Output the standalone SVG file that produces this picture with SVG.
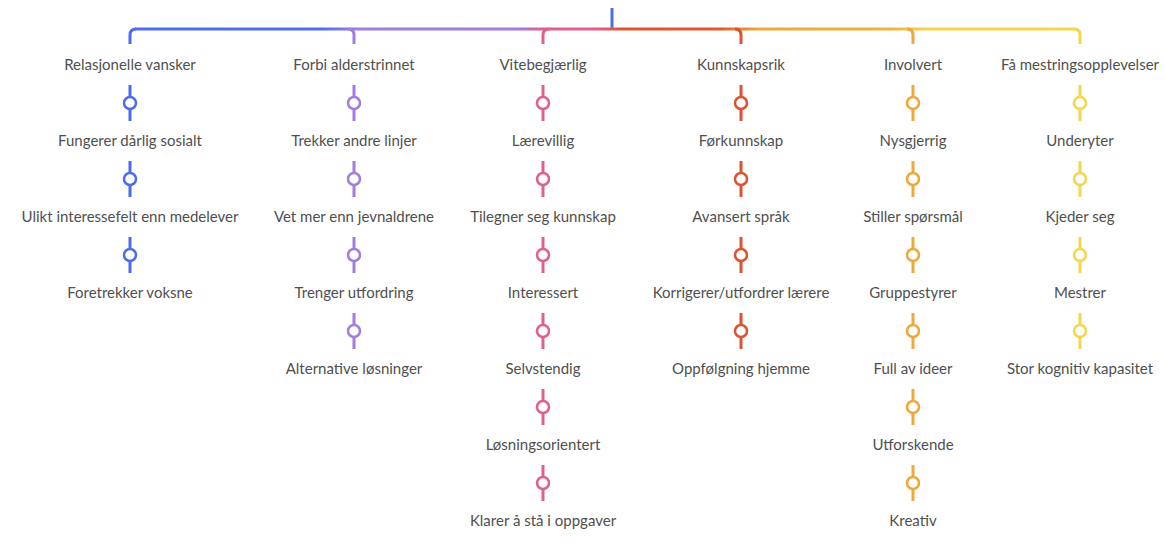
<svg xmlns="http://www.w3.org/2000/svg" width="1165" height="551" viewBox="0 0 1165 551">
<defs>
<linearGradient id="bar" gradientUnits="userSpaceOnUse" x1="130" y1="0" x2="1080" y2="0">
<stop offset="0" stop-color="#4b6cef"/>
<stop offset="0.2" stop-color="#4f6cef"/>
<stop offset="0.24" stop-color="#9a7fe2"/>
<stop offset="0.405" stop-color="#a07de0"/>
<stop offset="0.435" stop-color="#de5f8e"/>
<stop offset="0.49" stop-color="#e0608a"/>
<stop offset="0.52" stop-color="#e0522f"/>
<stop offset="0.62" stop-color="#e2572f"/>
<stop offset="0.66" stop-color="#f0a63a"/>
<stop offset="0.8" stop-color="#f2b03e"/>
<stop offset="0.84" stop-color="#f4d54d"/>
<stop offset="1" stop-color="#f4d64d"/>
</linearGradient>
</defs>
<style>
text{font-family:Lato,"Liberation Sans",sans-serif;font-size:15px;fill:#4f4f4f;text-anchor:middle}
.ln{fill:none;stroke-width:3;stroke-linecap:butt}
.dot{fill:#fff;stroke-width:2.5}
.blue{stroke:#4b6cef}.purple{stroke:#a07de0}.pink{stroke:#e0608d}.red{stroke:#e0522f}.orange{stroke:#f0a83a}.yellow{stroke:#f4d64d}
</style>
<rect width="1165" height="551" fill="#fff"/>
<g id="connectors">
<path class="ln blue" d="M612 8V30"/>
<path class="ln" stroke="url(#bar)" d="M135 29H1075"/>
<path class="ln blue" d="M130 44V35Q130 29 136 29"/>
<path class="ln purple" d="M348 29Q354 29 354 35V44"/>
<path class="ln pink" d="M543 44V35Q543 29 549 29"/>
<path class="ln red" d="M735 29Q741 29 741 35V44"/>
<path class="ln orange" d="M907 29Q913 29 913 35V44"/>
<path class="ln yellow" d="M1074 29Q1080 29 1080 35V44"/>
</g>
<g id="links">
<g class="blue"><path class="ln" d="M130 85V121M130 161V197M130 237V273"/><circle class="dot" cx="130" cy="103" r="6"/><circle class="dot" cx="130" cy="179" r="6"/><circle class="dot" cx="130" cy="255" r="6"/></g>
<g class="purple"><path class="ln" d="M354 85V121M354 161V197M354 237V273M354 313V349"/><circle class="dot" cx="354" cy="103" r="6"/><circle class="dot" cx="354" cy="179" r="6"/><circle class="dot" cx="354" cy="255" r="6"/><circle class="dot" cx="354" cy="331" r="6"/></g>
<g class="pink"><path class="ln" d="M543 85V121M543 161V197M543 237V273M543 313V349M543 389V425M543 465V501"/><circle class="dot" cx="543" cy="103" r="6"/><circle class="dot" cx="543" cy="179" r="6"/><circle class="dot" cx="543" cy="255" r="6"/><circle class="dot" cx="543" cy="331" r="6"/><circle class="dot" cx="543" cy="407" r="6"/><circle class="dot" cx="543" cy="483" r="6"/></g>
<g class="red"><path class="ln" d="M741 85V121M741 161V197M741 237V273M741 313V349"/><circle class="dot" cx="741" cy="103" r="6"/><circle class="dot" cx="741" cy="179" r="6"/><circle class="dot" cx="741" cy="255" r="6"/><circle class="dot" cx="741" cy="331" r="6"/></g>
<g class="orange"><path class="ln" d="M913 85V121M913 161V197M913 237V273M913 313V349M913 389V425M913 465V501"/><circle class="dot" cx="913" cy="103" r="6"/><circle class="dot" cx="913" cy="179" r="6"/><circle class="dot" cx="913" cy="255" r="6"/><circle class="dot" cx="913" cy="331" r="6"/><circle class="dot" cx="913" cy="407" r="6"/><circle class="dot" cx="913" cy="483" r="6"/></g>
<g class="yellow"><path class="ln" d="M1080 85V121M1080 161V197M1080 237V273M1080 313V349"/><circle class="dot" cx="1080" cy="103" r="6"/><circle class="dot" cx="1080" cy="179" r="6"/><circle class="dot" cx="1080" cy="255" r="6"/><circle class="dot" cx="1080" cy="331" r="6"/></g>
</g>
<g id="col1">
<g id="n1-0"><text x="130" y="70">Relasjonelle vansker</text></g>
<g id="n1-1"><text x="130" y="146">Fungerer dårlig sosialt</text></g>
<g id="n1-2"><text x="130" y="222">Ulikt interessefelt enn medelever</text></g>
<g id="n1-3"><text x="130" y="298">Foretrekker voksne</text></g>
</g>
<g id="col2">
<g id="n2-0"><text x="354" y="70">Forbi alderstrinnet</text></g>
<g id="n2-1"><text x="354" y="146">Trekker andre linjer</text></g>
<g id="n2-2"><text x="354" y="222">Vet mer enn jevnaldrene</text></g>
<g id="n2-3"><text x="354" y="298">Trenger utfordring</text></g>
<g id="n2-4"><text x="354" y="374">Alternative løsninger</text></g>
</g>
<g id="col3">
<g id="n3-0"><text x="543" y="70">Vitebegjærlig</text></g>
<g id="n3-1"><text x="543" y="146">Lærevillig</text></g>
<g id="n3-2"><text x="543" y="222">Tilegner seg kunnskap</text></g>
<g id="n3-3"><text x="543" y="298">Interessert</text></g>
<g id="n3-4"><text x="543" y="374">Selvstendig</text></g>
<g id="n3-5"><text x="543" y="450">Løsningsorientert</text></g>
<g id="n3-6"><text x="543" y="526">Klarer å stå i oppgaver</text></g>
</g>
<g id="col4">
<g id="n4-0"><text x="741" y="70">Kunnskapsrik</text></g>
<g id="n4-1"><text x="741" y="146">Førkunnskap</text></g>
<g id="n4-2"><text x="741" y="222">Avansert språk</text></g>
<g id="n4-3"><text x="741" y="298">Korrigerer/utfordrer lærere</text></g>
<g id="n4-4"><text x="741" y="374">Oppfølgning hjemme</text></g>
</g>
<g id="col5">
<g id="n5-0"><text x="913" y="70">Involvert</text></g>
<g id="n5-1"><text x="913" y="146">Nysgjerrig</text></g>
<g id="n5-2"><text x="913" y="222">Stiller spørsmål</text></g>
<g id="n5-3"><text x="913" y="298">Gruppestyrer</text></g>
<g id="n5-4"><text x="913" y="374">Full av ideer</text></g>
<g id="n5-5"><text x="913" y="450">Utforskende</text></g>
<g id="n5-6"><text x="913" y="526">Kreativ</text></g>
</g>
<g id="col6">
<g id="n6-0"><text x="1080" y="70">Få mestringsopplevelser</text></g>
<g id="n6-1"><text x="1080" y="146">Underyter</text></g>
<g id="n6-2"><text x="1080" y="222">Kjeder seg</text></g>
<g id="n6-3"><text x="1080" y="298">Mestrer</text></g>
<g id="n6-4"><text x="1080" y="374">Stor kognitiv kapasitet</text></g>
</g>
</svg>
